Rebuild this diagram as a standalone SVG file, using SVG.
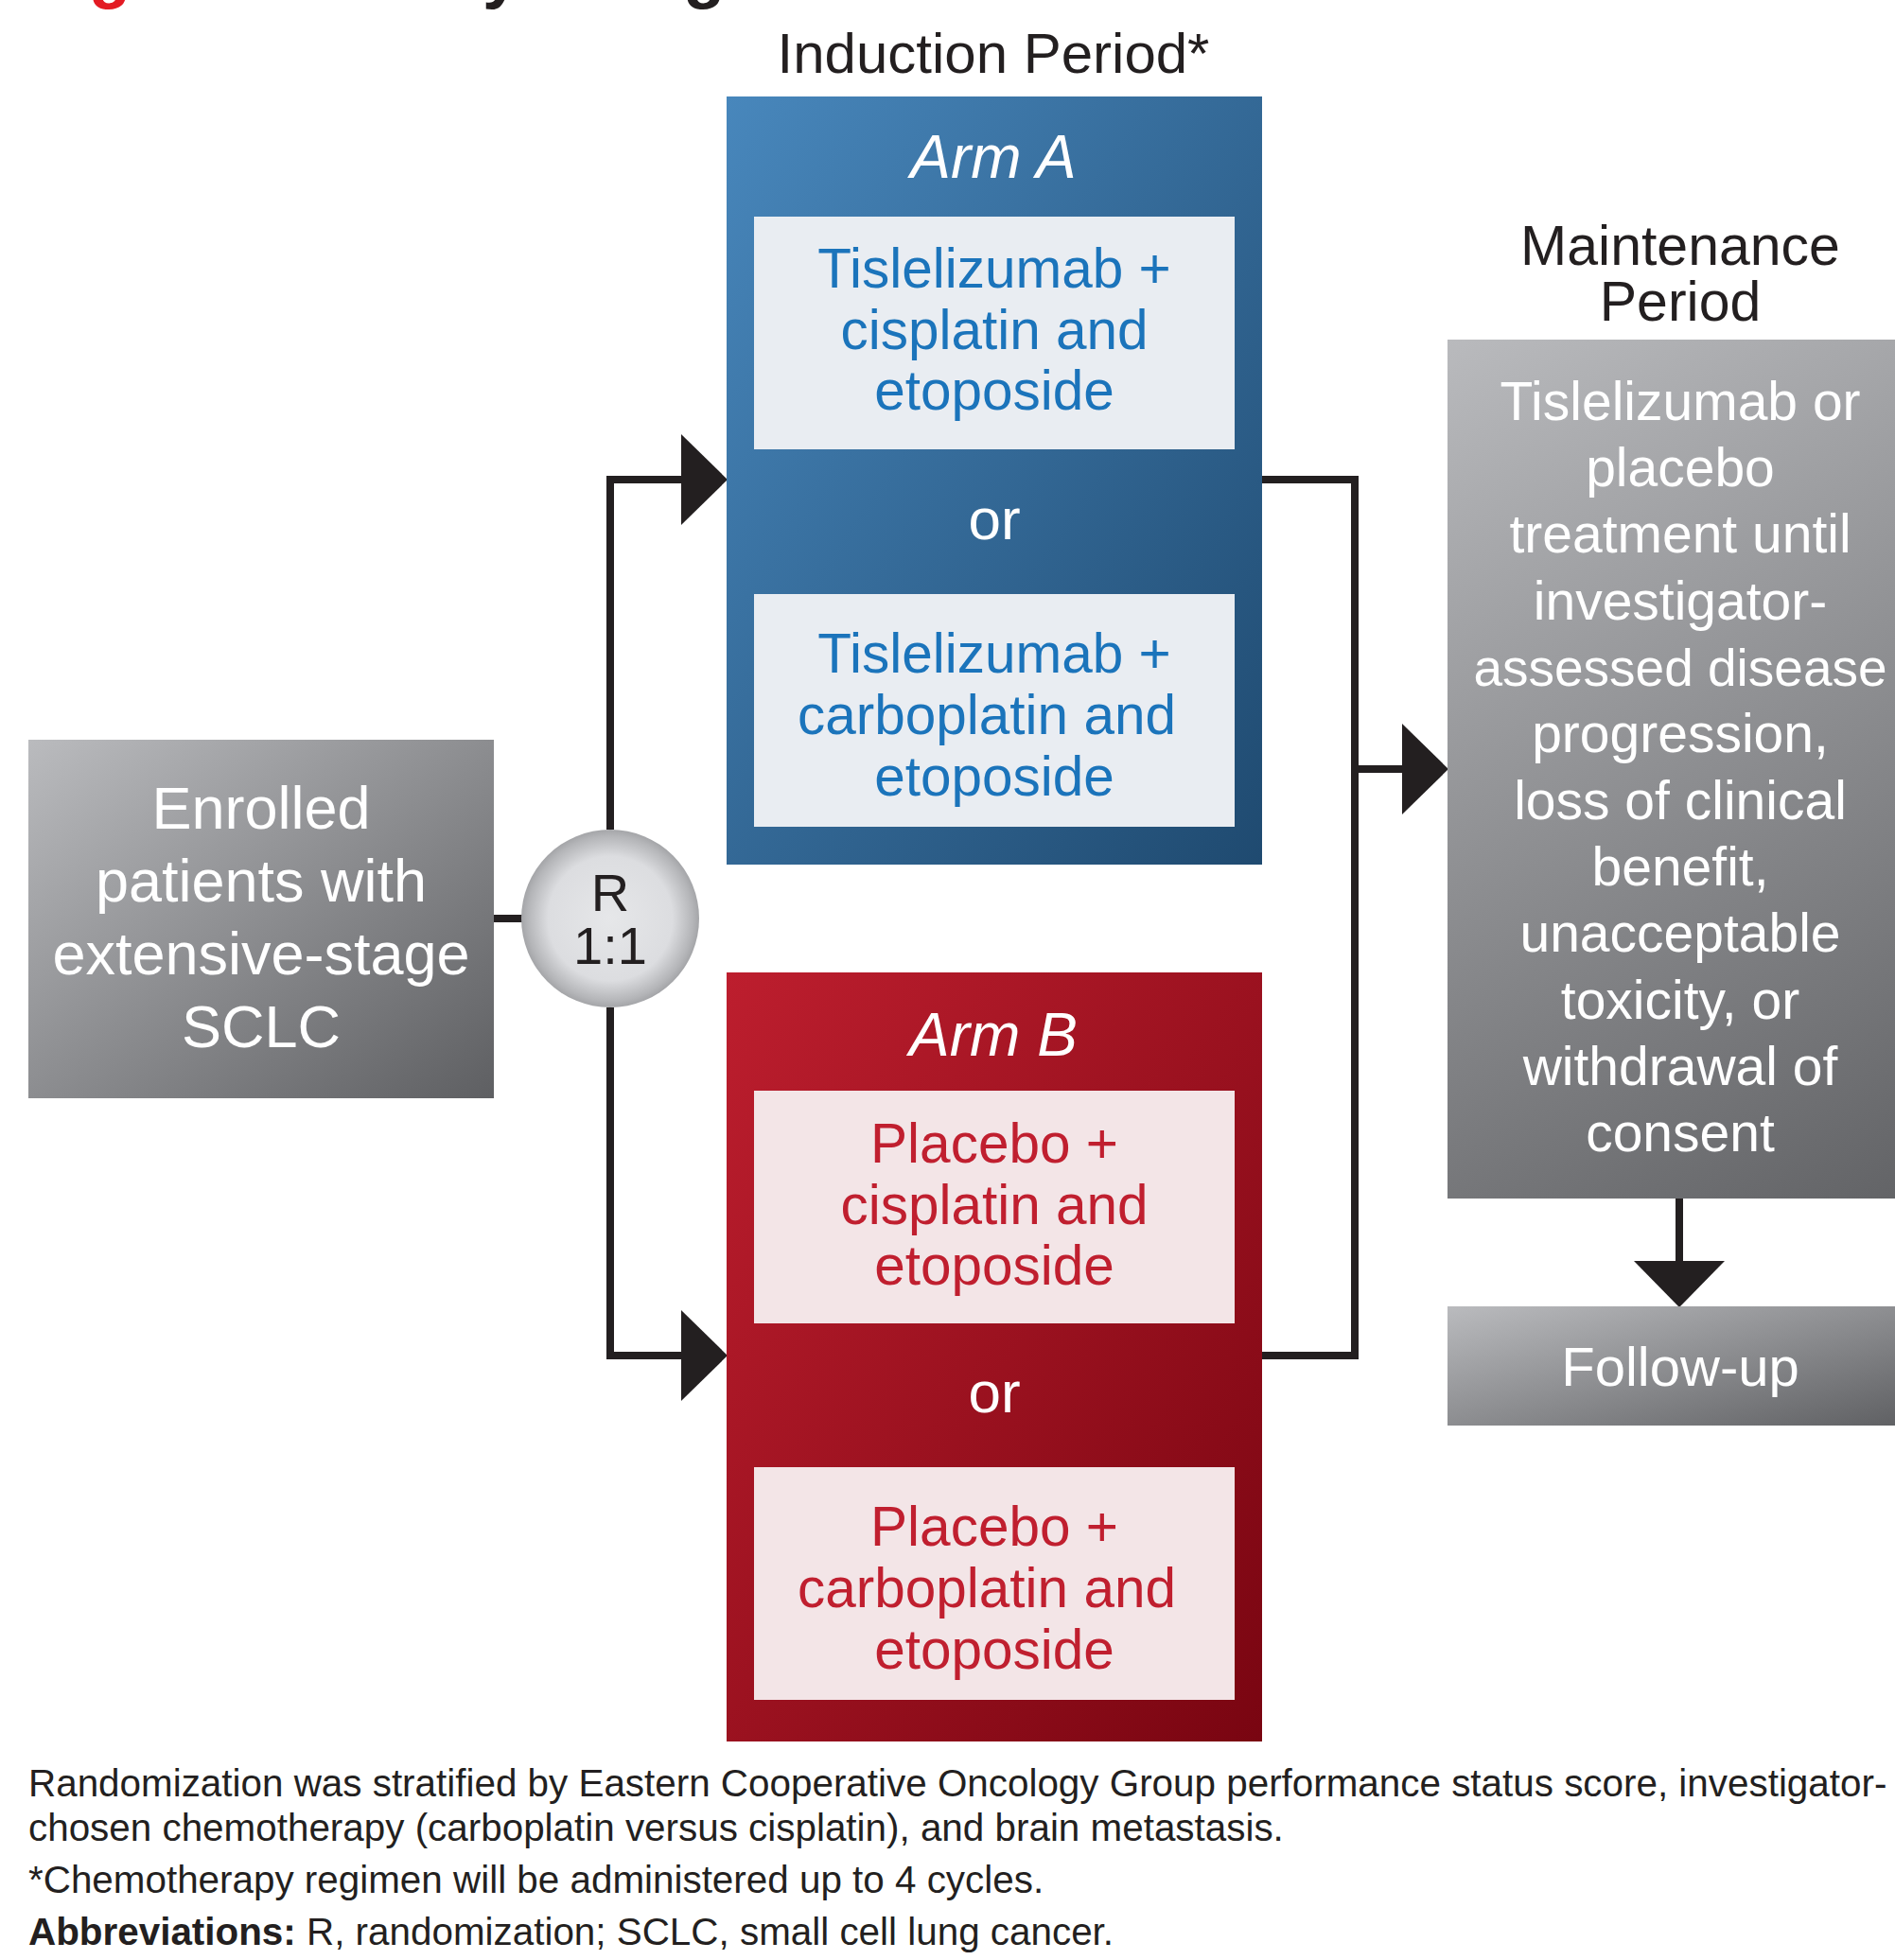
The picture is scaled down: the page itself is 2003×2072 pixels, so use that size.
<svg xmlns="http://www.w3.org/2000/svg" width="2003" height="2072" viewBox="0 0 2003 2072">
<defs>
<linearGradient id="gGray" x1="0" y1="0" x2="1" y2="1">
<stop offset="0" stop-color="#babbbe"/><stop offset="1" stop-color="#5e5f62"/>
</linearGradient>
<linearGradient id="gGrayTall" gradientUnits="userSpaceOnUse" x1="1530" y1="359" x2="2022" y2="1267">
<stop offset="0" stop-color="#b9babd"/><stop offset="1" stop-color="#626366"/>
</linearGradient>
<linearGradient id="gBlue" x1="0" y1="0" x2="1" y2="1">
<stop offset="0" stop-color="#4887bc"/><stop offset="1" stop-color="#1f4a70"/>
</linearGradient>
<linearGradient id="gRed" x1="0" y1="0" x2="1" y2="1">
<stop offset="0" stop-color="#bd1e2e"/><stop offset="1" stop-color="#790511"/>
</linearGradient>
<radialGradient id="gCircle" cx="0.5" cy="0.5" r="0.5">
<stop offset="0" stop-color="#e6e7e9"/><stop offset="0.7" stop-color="#dcdde0"/><stop offset="0.93" stop-color="#b4b5b8"/><stop offset="1" stop-color="#a4a5a8"/>
</radialGradient>
<marker id="arrow" viewBox="0 0 49 96" refX="0" refY="48" markerWidth="49" markerHeight="96" markerUnits="userSpaceOnUse" orient="auto">
<path d="M0,0 L49,48 L0,96 Z" fill="#231f20"/>
</marker>
</defs>
<style>
text{font-family:"Liberation Sans",Arial,sans-serif;}
.hdr{font-size:59px;fill:#231f20;text-anchor:middle;}
.wht{fill:#ffffff;text-anchor:middle;}
.arm{font-size:64px;font-style:italic;fill:#ffffff;text-anchor:middle;}
.or{font-size:62px;fill:#ffffff;text-anchor:middle;}
.blu{font-size:58.5px;fill:#1b74bb;text-anchor:middle;}
.red{font-size:58.5px;fill:#c01f2f;text-anchor:middle;}
.fn{font-size:40.4px;fill:#231f20;}
.con{fill:none;stroke:#231f20;stroke-width:8;}
</style>

<text x="30" y="-5" style="font-size:72px;font-weight:bold;fill:#231f20;"><tspan fill="#e31b23">Figure 1.</tspan> Study Design</text>

<text class="hdr" x="1050" y="77" style="font-size:60px">Induction Period*</text>
<text class="hdr" x="1776" y="280">Maintenance</text>
<text class="hdr" x="1776" y="339">Period</text>

<g id="connectors">
<path class="con" d="M522,971 H552"/>
<path class="con" d="M645,877 V507 H720" marker-end="url(#arrow)"/>
<path class="con" d="M645,1065 V1433 H720" marker-end="url(#arrow)"/>
<path class="con" d="M1334,507 H1432 V1433 H1334"/>
<path class="con" d="M1432,813 H1482" marker-end="url(#arrow)"/>
<path class="con" d="M1775,1267 V1333" marker-end="url(#arrow)"/>
</g>

<g id="enrolled">
<rect x="30" y="782" width="492" height="379" fill="url(#gGray)"/>
<text class="wht" style="font-size:63px" x="276" y="876">Enrolled</text>
<text class="wht" style="font-size:63px" x="276" y="953">patients with</text>
<text class="wht" style="font-size:63px" x="276" y="1030">extensive-stage</text>
<text class="wht" style="font-size:63px" x="276" y="1107">SCLC</text>
</g>

<g id="randomization">
<circle cx="645" cy="971" r="94" fill="url(#gCircle)"/>
<text x="645" y="963" style="font-size:56px;fill:#231f20;text-anchor:middle">R</text>
<text x="645" y="1019" style="font-size:56px;fill:#231f20;text-anchor:middle">1:1</text>
</g>

<g id="armA">
<rect x="768" y="102" width="566" height="812" fill="url(#gBlue)"/>
<text class="arm" x="1050" y="188">Arm A</text>
<rect x="797" y="229" width="508" height="246" fill="#e9edf2"/>
<text class="blu" x="1051" y="304">Tislelizumab +</text>
<text class="blu" x="1051" y="369">cisplatin and</text>
<text class="blu" x="1051" y="433">etoposide</text>
<text class="or" x="1051" y="570">or</text>
<rect x="797" y="628" width="508" height="246" fill="#e9edf2"/>
<text class="blu" x="1051" y="711">Tislelizumab +</text>
<text class="blu" x="1043" y="776">carboplatin and</text>
<text class="blu" x="1051" y="841">etoposide</text>
</g>

<g id="armB">
<rect x="768" y="1028" width="566" height="813" fill="url(#gRed)"/>
<text class="arm" x="1050" y="1116">Arm B</text>
<rect x="797" y="1153" width="508" height="246" fill="#f3e5e7"/>
<text class="red" x="1051" y="1229">Placebo +</text>
<text class="red" x="1051" y="1294">cisplatin and</text>
<text class="red" x="1051" y="1358">etoposide</text>
<text class="or" x="1051" y="1493">or</text>
<rect x="797" y="1551" width="508" height="246" fill="#f3e5e7"/>
<text class="red" x="1051" y="1634">Placebo +</text>
<text class="red" x="1043" y="1699">carboplatin and</text>
<text class="red" x="1051" y="1764">etoposide</text>
</g>

<g id="maintenance">
<rect x="1530" y="359" width="492" height="908" fill="url(#gGrayTall)"/>
<g class="wht" style="font-size:57px">
<text x="1776" y="444">Tislelizumab or</text>
<text x="1776" y="514">placebo</text>
<text x="1776" y="584">treatment until</text>
<text x="1776" y="655">investigator-</text>
<text x="1776" y="725" style="font-size:55px">assessed disease</text>
<text x="1776" y="795">progression,</text>
<text x="1776" y="866">loss of clinical</text>
<text x="1776" y="936">benefit,</text>
<text x="1776" y="1006">unacceptable</text>
<text x="1776" y="1077">toxicity, or</text>
<text x="1776" y="1147">withdrawal of</text>
<text x="1776" y="1217">consent</text>
</g>
</g>

<g id="followup">
<rect x="1530" y="1381" width="492" height="126" fill="url(#gGray)"/>
<text class="wht" style="font-size:58px" x="1776" y="1465">Follow-up</text>
</g>

<g id="footnotes">
<text class="fn" x="30" y="1899">Randomization was stratified by Eastern Cooperative Oncology Group performance status score, investigator-</text>
<text class="fn" x="30" y="1946">chosen chemotherapy (carboplatin versus cisplatin), and brain metastasis.</text>
<text class="fn" x="30" y="2001">*Chemotherapy regimen will be administered up to 4 cycles.</text>
<text class="fn" x="30" y="2056"><tspan font-weight="bold">Abbreviations:</tspan> R, randomization; SCLC, small cell lung cancer.</text>
</g>
</svg>
